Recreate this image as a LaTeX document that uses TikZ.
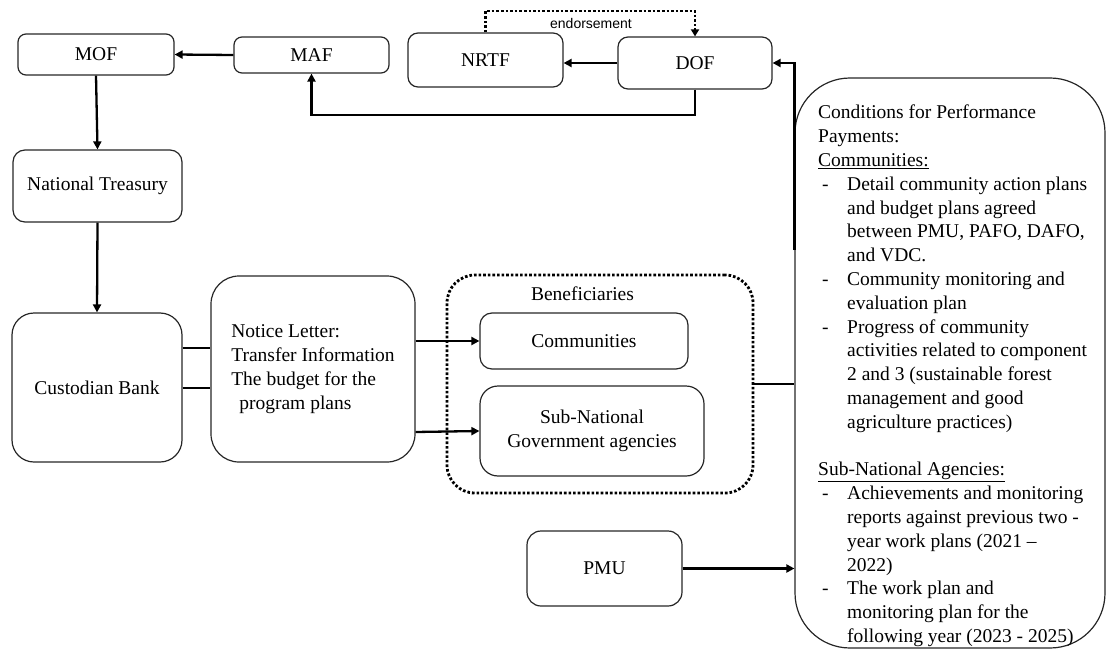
\documentclass[tikz,border=0pt]{standalone}
\usepackage{fontspec}
\setmainfont{Liberation Serif}
\newfontfamily\lsans{Liberation Sans}
\usetikzlibrary{arrows.meta}
\newcommand{\dashln}[1]{\makebox[29pt][l]{\hspace*{4pt}-}#1}
\newcommand{\contln}[1]{\hspace*{29pt}#1}
\begin{document}
\begin{tikzpicture}[x=1pt,y=-1pt,
  box/.style={draw=black!85, line width=1.2pt, rounded corners=8pt, inner sep=0pt,
    font=\fontsize{19.5}{23.8}\selectfont},
  conn/.style={line width=2.3pt, -{Triangle[length=8pt,width=8pt]}},
  link/.style={line width=2.3pt},
  dotline/.style={line width=2.8pt, dash pattern=on 2.6pt off 2pt},
]
\useasboundingbox (0,0) rectangle (1107,655);

\node[box, minimum width=156pt, minimum height=41pt] (mof) at (96,54.5) {MOF};
\node[box, minimum width=155pt, minimum height=36pt] (maf) at (311.5,55) {MAF};
\node[box, minimum width=155pt, minimum height=54pt, rounded corners=10pt] (nrtf) at (485.5,60) {NRTF};
\node[box, minimum width=154pt, minimum height=52pt, rounded corners=10pt] (dof) at (695,63) {DOF};
\node[box, minimum width=169pt, minimum height=72pt, rounded corners=12pt] (nt) at (97.5,186) {National Treasury};
\node[box, minimum width=170pt, minimum height=149pt, rounded corners=22pt] (cb) at (97,387.5) {Custodian Bank};
\node[box, minimum width=204pt, minimum height=186pt, rounded corners=28pt, align=left] (nl) at (313,369)
  {Notice Letter:\\Transfer Information\\The budget for the\\\hspace*{8pt}program plans};

\node[draw, dotline, rounded corners=28pt, minimum width=306pt, minimum height=218pt] (ben) at (600,384) {};
\node[font=\fontsize{19.5}{23.8}\selectfont, inner sep=0pt] (benl) at (582.5,294) {Beneficiaries};
\node[box, minimum width=208pt, minimum height=56pt, rounded corners=12pt] (com) at (584,341) {Communities};
\node[box, minimum width=224pt, minimum height=90pt, rounded corners=18pt, align=center] (sng) at (592,431)
  {Sub-National\\Government agencies};
\node[box, minimum width=155pt, minimum height=75pt, rounded corners=14pt] (pmu) at (604.5,568.5) {PMU};
\node[box, minimum width=310pt, minimum height=570pt, rounded corners=55pt] (cond) at (950,363) {};

\node[anchor=north west, inner sep=0pt, align=left, font=\fontsize{19.5}{23.8}\selectfont] (ctext) at (818,105) {%
Conditions for Performance\\
Payments:\\
\underline{Communities:}\\
\dashln{Detail community action plans}\\
\contln{and budget plans agreed}\\
\contln{between PMU, PAFO, DAFO,}\\
\contln{and VDC.}\\
\dashln{Community monitoring and}\\
\contln{evaluation plan}\\
\dashln{Progress of community}\\
\contln{activities related to component}\\
\contln{2 and 3 (sustainable forest}\\
\contln{management and good}\\
\contln{agriculture practices)}\\[23.8pt]
\underline{Sub-National Agencies:}\\
\dashln{Achievements and monitoring}\\
\contln{reports against previous two -}\\
\contln{year work plans (2021 –}\\
\contln{2022)}\\
\dashln{The work plan and}\\
\contln{monitoring plan for the}\\
\contln{following year (2023 - 2025)}};

\node[font=\lsans\fontsize{14}{16}\selectfont, inner sep=0pt] (endo) at (591,23) {endorsement};

% helper coordinates
\coordinate (ya) at (0,348);
\coordinate (yb) at (0,388);
\coordinate (yc) at (0,341);
\coordinate (yd) at (0,432);
\coordinate (yl) at (0,115);
\coordinate (yt) at (0,11);
\coordinate (cup) at ([yshift=113pt]cond.west);

% connectors
\draw[conn] (maf.west) -- (mof.east);
\draw[conn] (mof.south) -- (nt.north);
\draw[conn] (nt.south) -- (cb.north);
\draw[link] (cb.east |- ya) -- (nl.west |- ya);
\draw[link] (cb.east |- yb) -- (nl.west |- yb);
\draw[conn] (nl.east |- yc) -- (com.west);
\draw[conn] (nl.east |- yd) -- (sng.west);
\draw[link] (ben.east) -- (cond.west |- ben.east);
\draw[conn] (pmu.east) -- (cond.west |- pmu.east);
\draw[conn] (cup) |- (dof.east);
\draw[conn] (dof.west) -- (nrtf.east |- dof.west);
\draw[conn] (dof.south) -- (dof.south |- yl) -| (maf.south);
\draw[dotline, -{Triangle[length=7pt,width=8pt]}] (nrtf.north) -- (nrtf.north |- yt) -| (dof.north);
\end{tikzpicture}
\end{document}
